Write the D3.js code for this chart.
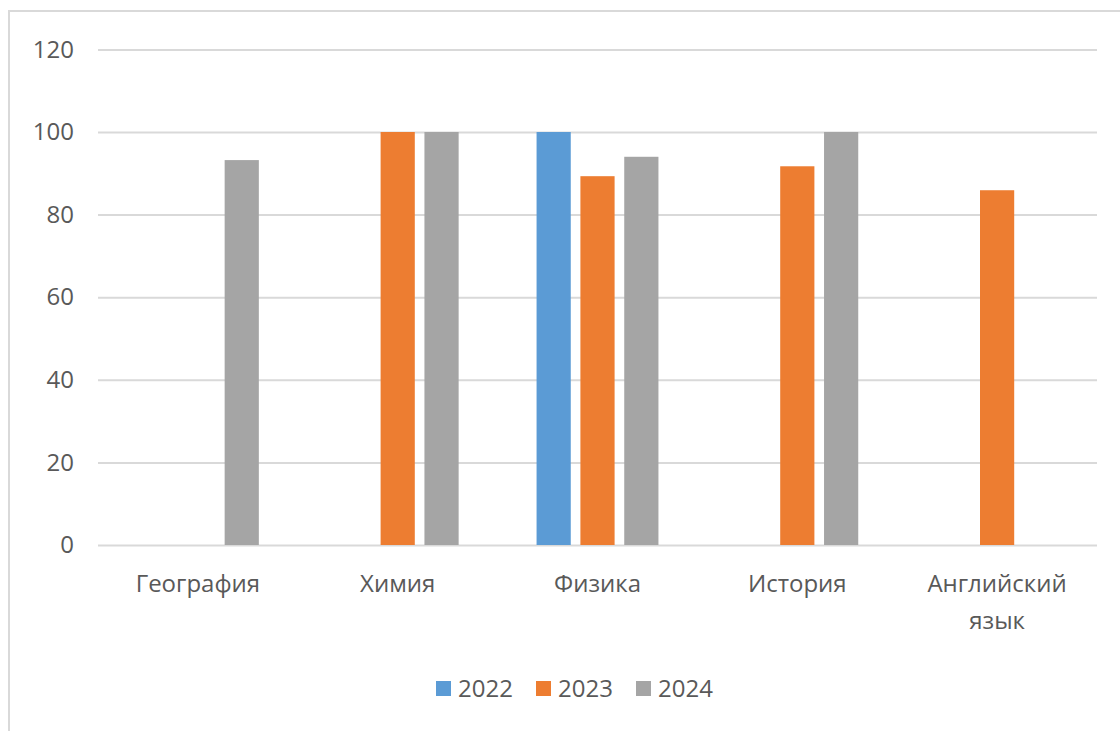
<!DOCTYPE html>
<html>
<head>
<meta charset="utf-8">
<script src="https://cdn.jsdelivr.net/npm/d3@7"></script>
<style>
  body { margin: 0; background: #fff; }
  svg text { font-family: "Open Sans", "Noto Sans", sans-serif; fill: #595959; }
</style>
</head>
<body>
<svg width="1120" height="731"></svg>
<script>
// data
const subjects = ["География", "Химия", "Физика", "История", "Английский язык"];
const years = ["2022", "2023", "2024"];
const v2022 = [0, 0, 100, 0, 0];
const v2023 = [0, 100, 89.3, 91.7, 85.9];
const v2024 = [93.2, 100, 94.0, 100, 0];
const yTicks = [0, 20, 40, 60, 80, 100, 120];

const colors = ["#5b9bd5", "#ed7d31", "#a5a5a5"];
const series = [v2022, v2023, v2024];

const svg = d3.select("svg");

// outer chart border (runs off the right/bottom edge like the screenshot)
svg.append("rect")
    .attr("x", 9).attr("y", 11)
    .attr("width", 1140).attr("height", 760)
    .attr("fill", "none")
    .attr("stroke", "#d9d9d9")
    .attr("stroke-width", 2);

const margin = {top: 49.4, left: 98, right: 1097, bottom: 545};
const fontSize = 24;

let y = d3.scaleLinear().domain([0, 120]).range([margin.bottom, margin.top]);

let x0 = d3.scaleBand().domain(subjects)
    .range([margin.left, margin.right])
    .paddingInner(0.39).paddingOuter(0.195);
let x1 = d3.scaleBand().domain(years)
    .range([0, x0.bandwidth()])
    .paddingInner(0.22);

// gridlines
svg.append("g")
    .attr("class", "grid")
    .attr("transform", "translate(" + margin.left + ",0)")
    .call(d3.axisLeft(y).tickValues(yTicks)
        .tickSize(-(margin.right - margin.left))
        .tickFormat(""))
    .call(g => g.select(".domain").remove())
    .call(g => g.selectAll("line").attr("stroke", "#d9d9d9").attr("stroke-width", 2));

// y labels
svg.append("g")
    .attr("transform", "translate(" + (margin.left - 24) + ",0)")
    .call(d3.axisLeft(y).tickValues(yTicks).tickSize(0).tickPadding(0))
    .call(g => g.select(".domain").remove())
    .call(g => g.selectAll("text")
        .attr("font-size", fontSize)
        .attr("font-family", null)
        .style("fill", "#595959"));

// bars
const groups = svg.append("g").selectAll("g")
    .data(subjects)
    .enter().append("g")
    .attr("transform", d => "translate(" + x0(d) + ",0)");

groups.selectAll("rect")
    .data((d, i) => years.map((yr, j) => ({yr: yr, v: series[j][i], c: colors[j]})))
    .enter().append("rect")
    .attr("x", d => x1(d.yr))
    .attr("width", x1.bandwidth())
    .attr("y", d => y(d.v))
    .attr("height", d => margin.bottom - y(d.v))
    .attr("fill", d => d.c);

// x labels (wrap the long one like Excel does)
const xAxis = svg.append("g")
    .attr("transform", "translate(0," + margin.bottom + ")")
    .call(d3.axisBottom(x0).tickSize(0).tickPadding(0))
    .call(g => g.select(".domain").remove());

xAxis.selectAll("text").each(function (d) {
    const t = d3.select(this)
        .attr("font-size", fontSize)
        .attr("font-family", null)
        .attr("dy", null)
        .attr("y", 47)
        .style("fill", "#595959")
        .text(null);
    const words = d.split(" ");
    const lines = words.length > 1 ? words : [d];
    lines.forEach((w, i) => {
        t.append("tspan").attr("x", 0).attr("dy", i ? 37 : 0).text(w);
    });
});

// legend
const leg = svg.append("g").attr("transform", "translate(436,681)");
const legX = [0, 100, 200];
years.forEach((yr, i) => {
    leg.append("rect")
        .attr("x", legX[i]).attr("y", 0)
        .attr("width", 15).attr("height", 15)
        .attr("fill", colors[i]);
    leg.append("text")
        .attr("x", legX[i] + 22).attr("y", 16)
        .attr("font-size", fontSize)
        .text(yr);
});
</script>
</body>
</html>
